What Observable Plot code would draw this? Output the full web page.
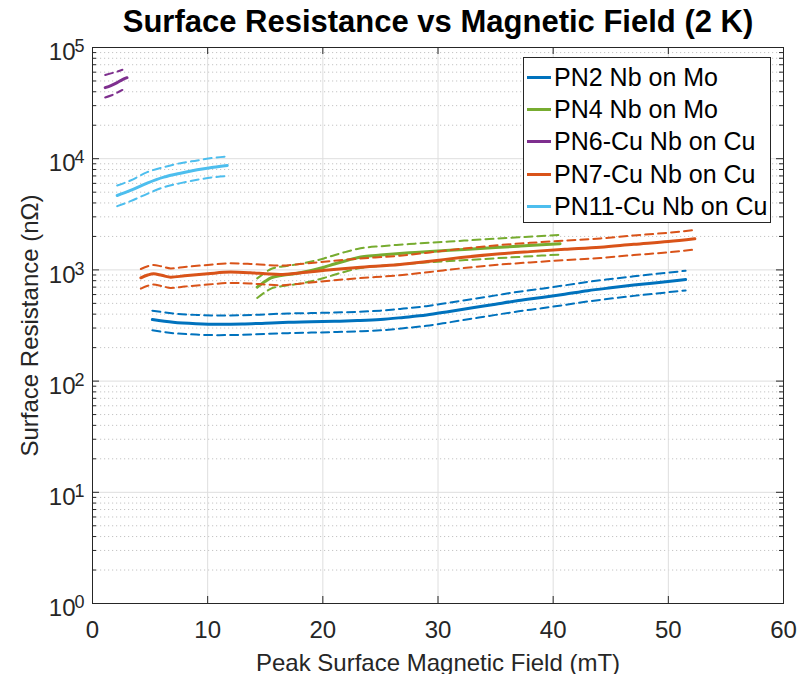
<!DOCTYPE html>
<html>
<head>
<meta charset="utf-8">
<script src="https://cdn.jsdelivr.net/npm/d3@7"></script>
<script src="https://cdn.jsdelivr.net/npm/@observablehq/plot@0.6"></script>
<style>
  html, body { margin: 0; padding: 0; background: #fff; }
  #wrap { position: relative; width: 811px; height: 674px; font-family: "Liberation Sans", Arial, Helvetica, sans-serif; }
  #legend { position: absolute; left: 523px; top: 57px; width: 248px; height: 166px; border: 1px solid #262626; background: #fff; box-sizing: border-box; padding-top: 3px; }
  .row { display: flex; align-items: center; height: 32.3px; }
  .sw { width: 24px; height: 3px; margin-left: 3px; margin-right: 3px; }
  .lab { font-size: 25px; color: #000; white-space: nowrap; line-height: 1; }
</style>
</head>
<body>
<div id="wrap"></div>
<script>
// ---- data ----
const seriesNames = ["PN2 Nb on Mo", "PN4 Nb on Mo", "PN6-Cu Nb on Cu", "PN7-Cu Nb on Cu", "PN11-Cu Nb on Cu"];
const seriesColors = ["#0072BD", "#77AC30", "#7E2F8E", "#D95319", "#4DBEEE"];

const pn2X  = [5.2, 7, 9, 11, 13, 15, 17, 19, 21, 23, 25, 27, 29, 31, 33, 35, 37, 39, 41, 43, 45, 47, 49, 51.5];
const pn2Y  = [358, 338, 328, 324, 326, 332, 338, 341, 345, 350, 358, 374, 393, 423, 456, 492, 530, 565, 605, 650, 690, 730, 768, 818];
const pn2Hi = [430, 406, 394, 389, 391, 398, 406, 409, 414, 420, 430, 449, 472, 508, 547, 590, 636, 678, 726, 780, 828, 876, 922, 982];
const pn2Lo = [286, 270, 262, 259, 261, 266, 270, 273, 276, 280, 286, 299, 314, 338, 365, 394, 424, 452, 484, 520, 552, 584, 614, 654];

const pn4X  = [14.3, 15, 15.5, 16.5, 17.8, 19, 20.1, 21, 22, 23, 23.6, 25, 26.4, 28, 29.3, 31, 33, 35, 37, 39, 40.6];
const pn4Y  = [699, 790, 849, 895, 934, 990, 1057, 1130, 1210, 1285, 1318, 1360, 1397, 1435, 1465, 1500, 1545, 1590, 1635, 1680, 1718];
const pn4Hi = [839, 948, 1019, 1074, 1121, 1188, 1268, 1356, 1452, 1542, 1582, 1632, 1676, 1722, 1758, 1800, 1854, 1908, 1962, 2016, 2062];
const pn4Lo = [559, 632, 679, 716, 747, 792, 846, 904, 968, 1028, 1054, 1088, 1118, 1148, 1172, 1200, 1236, 1272, 1308, 1344, 1374];

const pn6X  = [1.1, 1.6, 2.1, 2.6, 3.0];
const pn6Y  = [43600, 45500, 48000, 51500, 53500];
const pn6BX = [1.1, 1.6, 2.1, 2.6];
const pn6Hi = [56500, 58500, 60500, 63000];
const pn6Lo = [35500, 37000, 39000, 41500];

const pn7X  = [4.2, 4.8, 5.3, 6, 6.8, 8, 10, 12, 13.7, 15, 16.3, 18, 20.7, 23, 26.7, 29.3, 32, 35.4, 38, 41, 44.1, 47, 50, 52.3];
const pn7Y  = [849, 900, 923, 895, 860, 885, 923, 955, 942, 925, 910, 940, 1002, 1050, 1119, 1197, 1290, 1396, 1460, 1530, 1600, 1700, 1800, 1905];
const pn7Hi = [1019, 1080, 1108, 1074, 1032, 1062, 1108, 1146, 1130, 1110, 1092, 1128, 1202, 1260, 1343, 1436, 1548, 1675, 1752, 1836, 1920, 2040, 2160, 2286];
const pn7Lo = [679, 720, 738, 716, 688, 708, 738, 764, 754, 740, 728, 752, 802, 840, 895, 958, 1032, 1117, 1168, 1224, 1280, 1360, 1440, 1524];

const pn11X  = [2.14, 3.3, 4.75, 6.19, 7.64, 9.09, 10.5, 11.7];
const pn11Y  = [4670, 5180, 6030, 6820, 7410, 7940, 8390, 8700];
const pn11Hi = [5740, 6370, 7570, 8390, 9120, 9640, 10190, 10470];
const pn11Lo = [3740, 4150, 4830, 5540, 6030, 6460, 6820, 6960];

const xTicks = [0, 10, 20, 30, 40, 50, 60];
const xTickLabels = ["0", "10", "20", "30", "40", "50", "60"];
const yTicks = [1, 10, 100, 1000, 10000, 100000];
const yTickBase = "10";
const yTickExp = ["0", "1", "2", "3", "4", "5"];
const yMinor = [2,3,4,5,6,7,8,9,20,30,40,50,60,70,80,90,200,300,400,500,600,700,800,900,
                2000,3000,4000,5000,6000,7000,8000,9000,20000,30000,40000,50000,60000,70000,80000,90000];

const titleText = "Surface Resistance vs Magnetic Field (2 K)";
const xLabel = "Peak Surface Magnetic Field (mT)";
const yLabel = "Surface Resistance (nΩ)";

// ---- build tables ----
function rows(name, xs, ys) { return xs.map((x, i) => ({series: name, x, y: ys[i]})); }
const means = [
  rows(seriesNames[0], pn2X, pn2Y), rows(seriesNames[1], pn4X, pn4Y), rows(seriesNames[2], pn6X, pn6Y),
  rows(seriesNames[3], pn7X, pn7Y), rows(seriesNames[4], pn11X, pn11Y)
];
const bounds = [
  rows(seriesNames[0], pn2X, pn2Hi), rows(seriesNames[0], pn2X, pn2Lo),
  rows(seriesNames[1], pn4X, pn4Hi), rows(seriesNames[1], pn4X, pn4Lo),
  rows(seriesNames[2], pn6BX, pn6Hi), rows(seriesNames[2], pn6BX, pn6Lo),
  rows(seriesNames[3], pn7X, pn7Hi), rows(seriesNames[3], pn7X, pn7Lo),
  rows(seriesNames[4], pn11X, pn11Hi), rows(seriesNames[4], pn11X, pn11Lo)
];

const font = "'Liberation Sans', Arial, Helvetica, sans-serif";
const tickColor = "#262626";
const W = 811, H = 674, ML = 92, MR = 28, MT = 47, MB = 71;
const frameW = W - ML - MR, frameH = H - MT - MB;
const majorLen = 7, minorLen = 4;

const seriesMarks = [];
for (let s = 0; s < seriesNames.length; s++) {
  seriesMarks.push(Plot.line(bounds[2*s], {x: "x", y: "y", stroke: "series", strokeWidth: 2, strokeDasharray: "8,5", curve: "monotone-x"}));
  seriesMarks.push(Plot.line(bounds[2*s+1], {x: "x", y: "y", stroke: "series", strokeWidth: 2, strokeDasharray: "8,5", curve: "monotone-x"}));
  seriesMarks.push(Plot.line(means[s], {x: "x", y: "y", stroke: "series", strokeWidth: 3, curve: "monotone-x"}));
}

const chart = Plot.plot({
  width: W, height: H,
  marginLeft: ML, marginRight: MR, marginTop: MT, marginBottom: MB,
  x: {domain: [0, 60], axis: null},
  y: {type: "log", domain: [1, 100000], axis: null},
  color: {domain: seriesNames, range: seriesColors},
  style: {fontFamily: font, background: "white", overflow: "visible"},
  marks: [
    Plot.ruleY(yMinor, {stroke: "#c4c4c4", strokeDasharray: "1.2,2.8", strokeWidth: 1}),
    Plot.ruleY(yTicks.slice(1, -1), {stroke: "#dedede", strokeWidth: 1}),
    Plot.ruleX(xTicks.slice(1, -1), {stroke: "#dedede", strokeWidth: 1}),
    ...seriesMarks,
    Plot.frame({stroke: tickColor, strokeWidth: 1}),
    // inward tick marks (bottom, top, left, right)
    Plot.tickX(xTicks, {x: d => d, insetTop: frameH - majorLen, stroke: tickColor}),
    Plot.tickX(xTicks, {x: d => d, insetBottom: frameH - majorLen, stroke: tickColor}),
    Plot.tickY(yTicks, {y: d => d, insetRight: frameW - majorLen, stroke: tickColor}),
    Plot.tickY(yTicks, {y: d => d, insetLeft: frameW - majorLen, stroke: tickColor}),
    Plot.tickY(yMinor, {y: d => d, insetRight: frameW - minorLen, stroke: tickColor}),
    Plot.tickY(yMinor, {y: d => d, insetLeft: frameW - minorLen, stroke: tickColor}),
    // x tick labels
    Plot.text(xTicks, {x: d => d, frameAnchor: "bottom", text: (d, i) => xTickLabels[i], lineAnchor: "top", dy: 17, fontSize: 24, fill: tickColor}),
    // y tick labels 10^n
    Plot.text(yTicks, {y: d => d, frameAnchor: "left", text: () => yTickBase, textAnchor: "end", dx: -17, dy: 5, fontSize: 24, fill: tickColor}),
    Plot.text(yTicks, {y: d => d, frameAnchor: "left", text: (d, i) => yTickExp[i], textAnchor: "start", dx: -18, dy: -1, fontSize: 18, fill: tickColor}),
    // axis labels and title
    Plot.text([xLabel], {frameAnchor: "bottom", text: d => d, textAnchor: "middle", lineAnchor: "top", dy: 50, fontSize: 24, fill: tickColor}),
    Plot.text([yLabel], {frameAnchor: "left", text: d => d, textAnchor: "middle", rotate: -90, lineAnchor: "top", dx: -72, fontSize: 24, fill: tickColor}),
    Plot.text([titleText], {frameAnchor: "top", text: d => d, textAnchor: "middle", lineAnchor: "top", dy: -38, fontSize: 31, fontWeight: "bold", fill: "#000"})
  ]
});

const wrap = document.getElementById("wrap");
wrap.appendChild(chart);

// legend (HTML overlay)
const legend = document.createElement("div");
legend.id = "legend";
seriesNames.forEach((n, i) => {
  const r = document.createElement("div"); r.className = "row";
  const sw = document.createElement("div"); sw.className = "sw"; sw.style.background = seriesColors[i];
  const lb = document.createElement("div"); lb.className = "lab"; lb.textContent = n;
  r.appendChild(sw); r.appendChild(lb); legend.appendChild(r);
});
wrap.appendChild(legend);
</script>
</body>
</html>
